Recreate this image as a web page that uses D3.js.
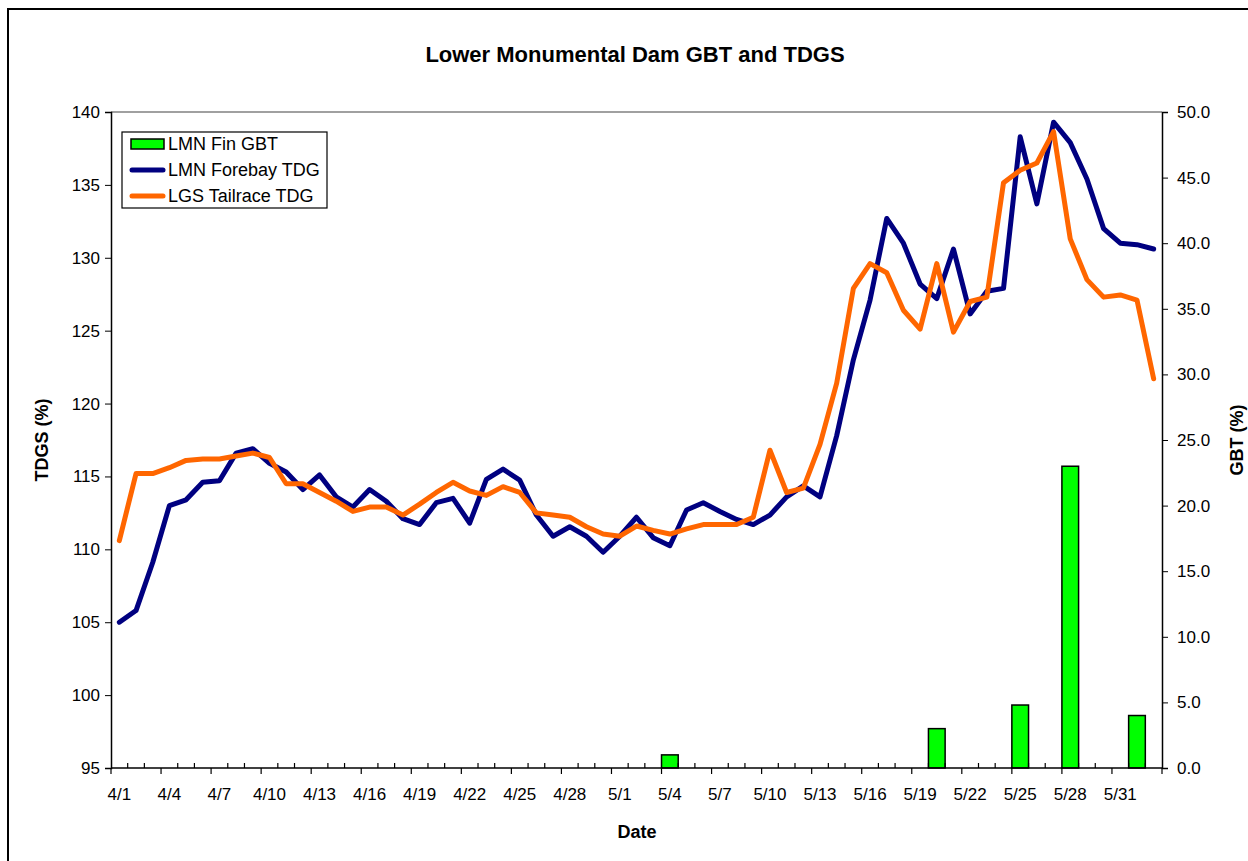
<!DOCTYPE html>
<html>
<head>
<meta charset="utf-8">
<script src="https://cdn.jsdelivr.net/npm/d3@7"></script>
<style>
  body { margin: 0; background: #fff; }
  svg { display: block; font-family: "Liberation Sans", Arial, sans-serif; }
</style>
</head>
<body>
<div id="chart"></div>
<script>
const dates = [
  "4/1","4/2","4/3","4/4","4/5","4/6","4/7","4/8","4/9","4/10",
  "4/11","4/12","4/13","4/14","4/15","4/16","4/17","4/18","4/19","4/20",
  "4/21","4/22","4/23","4/24","4/25","4/26","4/27","4/28","4/29","4/30",
  "5/1","5/2","5/3","5/4","5/5","5/6","5/7","5/8","5/9","5/10",
  "5/11","5/12","5/13","5/14","5/15","5/16","5/17","5/18","5/19","5/20",
  "5/21","5/22","5/23","5/24","5/25","5/26","5/27","5/28","5/29","5/30",
  "5/31","6/1","6/2"
];

const forebayTDG = [
  105.0, 105.8, 109.1, 113.0, 113.4, 114.6, 114.7, 116.6, 116.9, 115.9,
  115.3, 114.1, 115.1, 113.6, 112.9, 114.1, 113.3, 112.1, 111.7, 113.2,
  113.5, 111.8, 114.8, 115.5, 114.75, 112.35, 110.9, 111.55, 110.9, 109.8,
  110.9, 112.2, 110.8, 110.25, 112.7, 113.2, 112.6, 112.05, 111.7, 112.35,
  113.6, 114.35, 113.6, 117.8, 123.0, 127.1, 132.7, 131.0, 128.2, 127.2,
  130.6, 126.15, 127.7, 127.9, 138.3, 133.7, 139.3, 137.9, 135.4, 132.0,
  131.0, 130.9, 130.6
];

const tailraceTDG = [
  110.6, 115.2, 115.2, 115.6, 116.1, 116.2, 116.2, 116.4, 116.6, 116.3,
  114.5, 114.5, 113.9, 113.3, 112.6, 112.9, 112.9, 112.35, 113.1, 113.9,
  114.6, 114.0, 113.7, 114.3, 113.9, 112.5, 112.35, 112.2, 111.55, 111.05,
  110.9, 111.6, 111.3, 111.05, 111.4, 111.7, 111.7, 111.7, 112.2, 116.8,
  113.9, 114.2, 117.2, 121.4, 127.9, 129.6, 128.97, 126.4, 125.1, 129.6,
  124.9, 127.0, 127.3, 135.15, 136.0, 136.5, 138.65, 131.3, 128.5, 127.3,
  127.45, 127.1, 121.7
];

const gbtDates = ["5/4", "5/20", "5/25", "5/28", "6/1"];
const gbtValues = [1.0, 3.0, 4.8, 23.0, 4.0];

const leftTicks = [95, 100, 105, 110, 115, 120, 125, 130, 135, 140];
const rightTicks = [0, 5, 10, 15, 20, 25, 30, 35, 40, 45, 50];

const seriesNames = ["LMN Fin GBT", "LMN Forebay TDG", "LGS Tailrace TDG"];

const width = 1248;
const height = 861;
const margin = { top: 112, right: 86, bottom: 93, left: 111 };
const plotW = width - margin.left - margin.right;
const plotH = height - margin.top - margin.bottom;

const svg = d3.select("#chart")
  .append("svg")
  .attr("width", width)
  .attr("height", height);

// outer frame
svg.append("rect")
  .attr("x", 8)
  .attr("y", 9)
  .attr("width", width + 20)
  .attr("height", height + 20)
  .attr("fill", "none")
  .attr("stroke", "#000")
  .attr("stroke-width", 2);

svg.append("text")
  .attr("x", 635)
  .attr("y", 62)
  .attr("text-anchor", "middle")
  .attr("font-size", 22)
  .attr("font-weight", "bold")
  .text("Lower Monumental Dam GBT and TDGS");

const g = svg.append("g")
  .attr("transform", `translate(${margin.left},${margin.top})`);

const x = d3.scaleBand().domain(dates).range([0, plotW]).padding(0);
const yLeft = d3.scaleLinear().domain([95, 140]).range([plotH, 0]);
const yRight = d3.scaleLinear().domain([0, 50]).range([plotH, 0]);

// plot area border (top gray)
g.append("line")
  .attr("x1", 0).attr("x2", plotW)
  .attr("y1", 0).attr("y2", 0)
  .attr("stroke", "#808080")
  .attr("stroke-width", 1.5);

// bars
g.append("g")
  .selectAll("rect")
  .data(gbtDates.map((d, i) => ({ date: d, value: gbtValues[i] })))
  .enter()
  .append("rect")
  .attr("x", (d) => x(d.date))
  .attr("y", (d) => yRight(d.value))
  .attr("width", x.bandwidth())
  .attr("height", (d) => plotH - yRight(d.value))
  .attr("fill", "#00ff00")
  .attr("stroke", "#000")
  .attr("stroke-width", 1.5);

// lines
const lineLeft = d3.line()
  .x((d, i) => x(dates[i]) + x.bandwidth() / 2)
  .y((d) => yLeft(d));

g.append("path")
  .datum(forebayTDG)
  .attr("d", lineLeft)
  .attr("fill", "none")
  .attr("stroke", "#000080")
  .attr("stroke-width", 5)
  .attr("stroke-linejoin", "round")
  .attr("stroke-linecap", "round");

g.append("path")
  .datum(tailraceTDG)
  .attr("d", lineLeft)
  .attr("fill", "none")
  .attr("stroke", "#ff6600")
  .attr("stroke-width", 5)
  .attr("stroke-linejoin", "round")
  .attr("stroke-linecap", "round");

// left axis
const leftAxis = g.append("g")
  .call(d3.axisLeft(yLeft).tickValues(leftTicks).tickSize(6).tickPadding(5));
leftAxis.select(".domain").attr("stroke-width", 1.5);

// right axis
const rightAxis = g.append("g")
  .attr("transform", `translate(${plotW},0)`)
  .call(d3.axisRight(yRight).tickValues(rightTicks).tickFormat(d3.format(".1f")).tickSize(6).tickPadding(9));
rightAxis.select(".domain").attr("stroke-width", 1.5);

// x axis: major ticks every 3 days at category start, minor ticks upward
const xAxis = g.append("g").attr("transform", `translate(0,${plotH})`);
xAxis.append("line")
  .attr("x1", 0).attr("x2", plotW)
  .attr("stroke", "#000")
  .attr("stroke-width", 1.5);

const boundaries = dates.concat(["end"]);
xAxis.selectAll("line.tick")
  .data(boundaries)
  .enter()
  .append("line")
  .attr("class", "tick")
  .attr("x1", (d, i) => i * x.step())
  .attr("x2", (d, i) => i * x.step())
  .attr("y1", (d, i) => (i % 3 === 0 ? 0 : -5))
  .attr("y2", (d, i) => (i % 3 === 0 ? 6 : 0))
  .attr("stroke", "#000")
  .attr("stroke-width", 1.2);

xAxis.selectAll("text")
  .data(dates.filter((d, i) => i % 3 === 0))
  .enter()
  .append("text")
  .attr("x", (d) => x(d) + x.bandwidth() / 2)
  .attr("y", 32)
  .attr("text-anchor", "middle")
  .attr("font-size", 17)
  .text((d) => d);

svg.selectAll(".tick text")
  .attr("font-size", 17)
  .attr("font-family", "Liberation Sans, Arial, sans-serif")
  .attr("fill", "#000");

// axis titles
svg.append("text")
  .attr("transform", "translate(48,440) rotate(-90)")
  .attr("text-anchor", "middle")
  .attr("font-size", 18)
  .attr("font-weight", "bold")
  .text("TDGS (%)");

svg.append("text")
  .attr("transform", "translate(1243,440) rotate(-90)")
  .attr("text-anchor", "middle")
  .attr("font-size", 18)
  .attr("font-weight", "bold")
  .text("GBT (%)");

svg.append("text")
  .attr("x", 637)
  .attr("y", 838)
  .attr("text-anchor", "middle")
  .attr("font-size", 18)
  .attr("font-weight", "bold")
  .text("Date");

// legend
const legend = svg.append("g").attr("transform", "translate(122,132)");
legend.append("rect")
  .attr("width", 205)
  .attr("height", 76)
  .attr("fill", "#fff")
  .attr("stroke", "#000")
  .attr("stroke-width", 1.2);

seriesNames.forEach((name, i) => {
  const cy = 12 + i * 26;
  if (i === 0) {
    legend.append("rect")
      .attr("x", 9).attr("y", cy - 5)
      .attr("width", 33).attr("height", 10)
      .attr("fill", "#00ff00")
      .attr("stroke", "#000")
      .attr("stroke-width", 1.5);
  } else {
    legend.append("line")
      .attr("x1", 10).attr("x2", 41)
      .attr("y1", cy).attr("y2", cy)
      .attr("stroke", i === 1 ? "#000080" : "#ff6600")
      .attr("stroke-width", 5)
      .attr("stroke-linecap", "round");
  }
  legend.append("text")
    .attr("x", 46)
    .attr("y", cy + 6)
    .attr("font-size", 18)
    .text(name);
});
</script>
</body>
</html>
